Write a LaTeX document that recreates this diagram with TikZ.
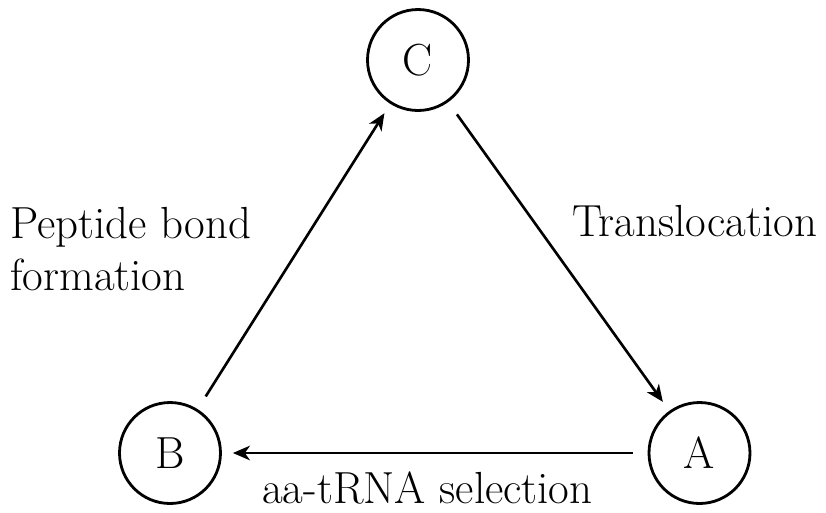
\documentclass[tikz,border=0pt]{standalone}
\usetikzlibrary{arrows.meta, positioning}

\begin{document}
\begin{tikzpicture}[x=0.02cm, y=-0.02cm,
    state/.style={draw, circle, line width=1.6pt, minimum size=2.02cm, inner sep=0pt, font=\fontsize{25.6}{29.6}\selectfont},
    cycle/.style={line width=1.5pt, -{Stealth[length=0.34cm, width=0.29cm, inset=0.1cm]}, shorten <=0.3cm, shorten >=0.22cm},
    lbl/.style={font=\fontsize{25.6}{29.6}\selectfont, inner sep=0pt}]
  \useasboundingbox (0,0) rectangle (826,512);

  % States of the cycle
  \node[state] (C) at (418, 60) {C};
  \node[state] (B) at (170, 453) {B};
  \node[state] (A) at (699.5, 453) {A};

  % Steps
  \draw[cycle] (B) -- (C);
  \draw[cycle] (C) -- (A);
  \draw[cycle] (A) -- (B);

  % Labels
  \node[lbl, anchor=base west, align=left] (pep) at (10, 290) {Peptide bond\\formation};
  \node[lbl, anchor=base west] (trans) at (572, 236) {Translocation};
  \node[lbl, anchor=base west] (sel) at (262, 503) {aa-tRNA selection};
\end{tikzpicture}
\end{document}
